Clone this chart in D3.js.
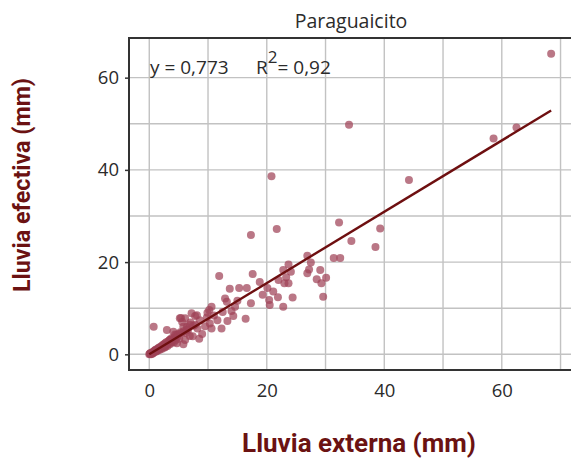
<!DOCTYPE html>
<html>
<head>
<meta charset="utf-8">
<script src="https://cdn.jsdelivr.net/npm/d3@7"></script>
<style>
  html, body { margin: 0; padding: 0; background: #fff; }
  svg { display: block; }
</style>
</head>
<body>
<svg id="chart" width="571" height="459"></svg>
<script>
// Estación Paraguaicito: lluvia externa vs. lluvia efectiva (mm)
const lluviaExterna = [
  68.4, 62.5, 58.6, 34.0, 20.8, 44.2, 39.3, 32.3, 34.4, 38.5, 31.4, 32.5, 26.9, 27.5, 17.3, 21.7,
  23.7, 22.8, 24.1, 26.9, 27.2, 29.1, 30.1, 28.5, 29.3, 22.0, 23.3, 23.7, 23.0, 18.8, 20.1, 21.1,
  19.3, 21.9, 20.4, 20.5, 22.8, 24.4, 29.6,
  11.9, 17.6, 13.7, 15.3, 16.6, 12.9, 13.2, 15.0, 17.3, 10.6, 14.0, 14.6, 12.5, 14.3, 16.4, 13.3,
  11.6, 9.9, 7.8, 6.1, 10.3, 9.5, 10.6, 12.3, 7.8, 6.4, 8.6, 9.8, 11.0, 10.2,
  0.75, 5.4, 3.0, 4.1, 5.8, 5.2, 7.2, 8.1, 6.9, 5.5, 6.1, 4.7, 2.7, 3.5, 5.8, 7.0, 5.6, 8.2, 9.0,
  6.9, 8.5, 7.4, 4.4, 3.8,
  0.0, 0.1, 0.2, 0.2, 0.3, 0.4, 0.5, 0.5, 0.6, 0.7, 0.8, 0.9, 1.0, 1.0, 1.1, 1.2, 1.3, 1.4, 1.5,
  1.6, 1.7, 1.8, 1.9, 2.0, 2.1, 2.2, 2.3, 2.4, 2.5, 2.6, 2.7, 2.8, 2.9, 3.0, 3.1, 3.2, 3.3, 3.4,
  3.5, 3.6, 3.7, 3.8, 3.9, 4.0, 4.2, 4.3, 4.5, 4.6, 4.8, 5.0, 5.1, 5.3, 5.9, 6.2, 6.4, 6.6, 7.5,
  0.3, 0.6, 0.9, 1.2, 1.5, 1.8, 2.1, 2.4
];
const lluviaEfectiva = [
  65.2, 49.2, 46.8, 49.8, 38.6, 37.8, 27.3, 28.6, 24.6, 23.3, 20.9, 20.9, 21.4, 19.9, 25.9, 27.2,
  19.5, 18.3, 17.9, 17.6, 18.4, 18.3, 16.6, 16.3, 15.4, 16.1, 16.7, 15.4, 15.4, 15.7, 14.4, 13.6,
  12.9, 12.4, 11.8, 10.7, 10.3, 12.3, 12.5,
  17.0, 17.4, 14.2, 14.4, 14.4, 12.1, 11.4, 11.6, 11.1, 10.3, 9.4, 10.3, 9.2, 8.3, 7.7, 7.2,
  7.4, 9.0, 8.3, 7.8, 6.7, 6.1, 5.6, 5.6, 6.4, 5.9, 7.4, 8.0, 8.4, 9.6,
  6.0, 7.9, 5.3, 4.9, 6.0, 7.8, 8.9, 8.5, 6.4, 4.6, 3.1, 2.4, 1.6, 3.1, 2.2, 6.9, 7.0, 5.6, 4.4,
  4.0, 3.4, 3.9, 4.3, 2.5,
  0.0, 0.1, 0.1, 0.3, 0.2, 0.3, 0.4, 0.2, 0.5, 0.4, 0.6, 0.8, 0.7, 0.9, 1.0, 0.8, 1.1, 0.9, 1.3,
  1.2, 1.5, 1.0, 1.6, 1.4, 1.8, 1.2, 2.0, 1.7, 2.2, 1.5, 2.4, 1.9, 2.6, 2.1, 1.8, 2.8, 2.4, 3.0,
  2.2, 3.2, 2.7, 3.5, 2.9, 3.3, 2.6, 3.6, 3.1, 4.2, 3.8, 4.4, 3.4, 4.8, 5.0, 4.6, 5.4, 5.3, 6.2,
  0.0, 0.2, 0.5, 0.6, 0.9, 1.3, 1.4, 1.9
];

const pendiente = 0.773;
const pendienteTexto = "0,773";
const r2Texto = "0,92";
const ticksX = [0, 20, 40, 60];
const ticksY = [0, 20, 40, 60];
const gridX = [0, 10, 20, 30, 40, 50, 60, 70];
const gridY = [0, 10, 20, 30, 40, 50, 60];

const svg = d3.select("#chart");
const panel = { left: 129, right: 572, top: 38, bottom: 370 };

const x = d3.scaleLinear().domain([-3.45, 71.95]).range([panel.left, panel.right]);
const y = d3.scaleLinear().domain([-3.4, 68.6]).range([panel.bottom, panel.top]);

// Cuadrícula
const grid = svg.append("g");
grid.selectAll("line.gx").data(gridX).join("line")
  .attr("x1", d => x(d)).attr("x2", d => x(d))
  .attr("y1", panel.top).attr("y2", panel.bottom)
  .attr("stroke", "#c2c2c2").attr("stroke-width", 1.4);
grid.selectAll("line.gy").data(gridY).join("line")
  .attr("x1", panel.left).attr("x2", panel.right)
  .attr("y1", d => y(d)).attr("y2", d => y(d))
  .attr("stroke", "#c2c2c2").attr("stroke-width", 1.4);

// Puntos
const puntos = lluviaExterna.map((v, i) => [v, lluviaEfectiva[i]]);
svg.append("g").selectAll("circle").data(puntos).join("circle")
  .attr("cx", d => x(d[0])).attr("cy", d => y(d[1]))
  .attr("r", 4)
  .attr("fill", "#a04258")
  .attr("fill-opacity", 0.72);

// Recta de regresión por el origen
const xMax = d3.max(lluviaExterna);
svg.append("line")
  .attr("x1", x(0)).attr("y1", y(0))
  .attr("x2", x(xMax)).attr("y2", y(pendiente * xMax))
  .attr("stroke", "#6e0f10").attr("stroke-width", 2.4);

// Marco del panel
svg.append("path")
  .attr("d", `M${panel.right},${panel.top}H${panel.left}V${panel.bottom}H${panel.right}`)
  .attr("fill", "none").attr("stroke", "#333").attr("stroke-width", 2);

// Ejes
const yAxis = svg.append("g").attr("transform", `translate(${panel.left - 1},0)`)
  .call(d3.axisLeft(y).tickValues(ticksY).tickSize(3).tickPadding(6).tickFormat(d3.format("d")));
yAxis.select(".domain").remove();
yAxis.selectAll("line").attr("stroke", "#333").attr("stroke-width", 1.5);
yAxis.selectAll("text").attr("font-family", "'Open Sans', sans-serif").attr("font-size", 18.5).attr("fill", "#2b2b2b");

const xAxis = svg.append("g").attr("transform", `translate(0,${panel.bottom + 1})`)
  .call(d3.axisBottom(x).tickValues(ticksX).tickSize(0).tickPadding(13).tickFormat(d3.format("d")));
xAxis.select(".domain").remove();
xAxis.selectAll("text").attr("font-family", "'Open Sans', sans-serif").attr("font-size", 18.5).attr("fill", "#2b2b2b");

// Título
svg.append("text")
  .attr("x", 351).attr("y", 28).attr("text-anchor", "middle")
  .attr("font-family", "'Open Sans', sans-serif").attr("font-size", 19.5).attr("fill", "#2b2b2b")
  .text("Paraguaicito");

// Ecuación
const eq = svg.append("text")
  .attr("y", 74)
  .attr("font-family", "'Open Sans', sans-serif").attr("font-size", 19).attr("fill", "#2b2b2b");
eq.append("tspan").attr("x", 150).text("y = " + pendienteTexto);
eq.append("tspan").attr("x", 256).text("R");
eq.append("tspan").attr("dy", -11).attr("font-size", 17).text("2");
eq.append("tspan").attr("dy", 11).text("= " + r2Texto);

// Títulos de ejes
svg.append("text")
  .attr("x", 359).attr("y", 452).attr("text-anchor", "middle")
  .attr("font-family", "Roboto, sans-serif").attr("font-weight", "bold").attr("font-size", 26)
  .attr("fill", "#6b1212")
  .text("Lluvia externa (mm)");
svg.append("text")
  .attr("transform", "translate(30,185) rotate(-90)").attr("text-anchor", "middle")
  .attr("font-family", "Roboto, sans-serif").attr("font-weight", "bold").attr("font-size", 23.3)
  .attr("fill", "#6b1212")
  .text("Lluvia efectiva (mm)");
</script>
</body>
</html>
